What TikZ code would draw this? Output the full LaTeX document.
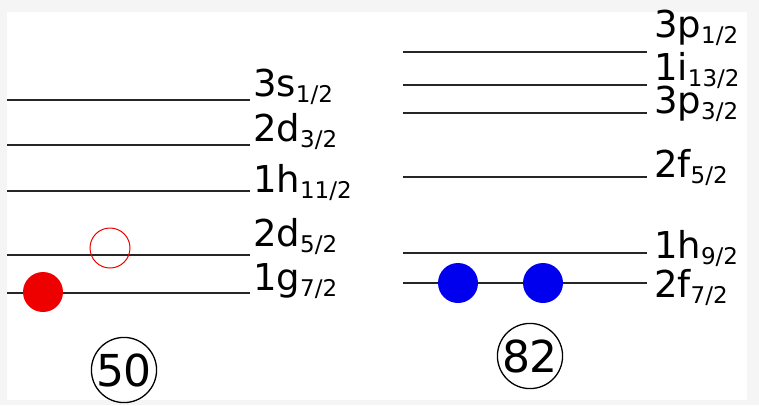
\documentclass[tikz,border=0pt]{standalone}
\usepackage{fontspec}
\setmainfont{DejaVu Sans}
\usetikzlibrary{positioning}

% level label: main part and lowered subscript
\newcommand{\lvl}[2]{{\fontsize{37}{37}\selectfont #1}\raisebox{-6pt}[11pt][4pt]{\fontsize{23}{23}\selectfont #2}}

\begin{document}
\begin{tikzpicture}[x=1pt, y=-1pt, line width=2.2pt,
    level/.style={draw=black!85},
    lbl/.style={anchor=base west, inner sep=0pt},
    particle/.style={circle, minimum size=40pt, inner sep=0pt},
    magic/.style={circle, draw, line width=1.3pt, minimum size=56pt, inner sep=0pt, font=\fontsize{44}{44}\selectfont}]
    \useasboundingbox (0,0) rectangle (759,405);
    \fill[gray!8] (0,0) rectangle (759,405);
    \fill[white] (7,12) rectangle (747,400);

    % Z = 50 side
    \draw[level] (7,100) -- (250,100);
    \draw[level] (7,145) -- (250,145);
    \draw[level] (7,191) -- (250,191);
    \draw[level] (7,255) -- (250,255);
    \draw[level] (7,293) -- (250,293);
    \node[lbl] (s12) at (252,96) {\lvl{3s}{1/2}};
    \node[lbl] (d32) at (252,141) {\lvl{2d}{3/2}};
    \node[lbl] (h112) at (252,192) {\lvl{1h}{11/2}};
    \node[lbl] (d52) at (252,246) {\lvl{2d}{5/2}};
    \node[lbl] (g72) at (252,290) {\lvl{1g}{7/2}};
    \node[particle, fill={rgb,255:red,238;green,0;blue,0}] (proton) at (43,292) {};
    \node[particle, draw={rgb,255:red,238;green,0;blue,0}, line width=1pt] (hole) at (110,248) {};
    \node[magic] (fifty) at (124,370) {50};

    % N = 82 side
    \draw[level] (403,52) -- (647,52);
    \draw[level] (403,85) -- (647,85);
    \draw[level] (403,113) -- (647,113);
    \draw[level] (403,177) -- (647,177);
    \draw[level] (403,253) -- (647,253);
    \draw[level] (403,283) -- (647,283);
    \node[lbl] (p12) at (653,37) {\lvl{3p}{1/2}};
    \node[lbl] (i132) at (653,80) {\lvl{1i}{13/2}};
    \node[lbl] (p32) at (653,113) {\lvl{3p}{3/2}};
    \node[lbl] (f52) at (653,177) {\lvl{2f}{5/2}};
    \node[lbl] (h92) at (653,258) {\lvl{1h}{9/2}};
    \node[lbl] (f72) at (653,297) {\lvl{2f}{7/2}};
    \node[particle, fill={rgb,255:red,0;green,0;blue,238}] (neutronA) at (458,283) {};
    \node[particle, fill={rgb,255:red,0;green,0;blue,238}] (neutronB) at (543,283) {};
    \node[magic] (eightytwo) at (530,356) {82};
\end{tikzpicture}
\end{document}
